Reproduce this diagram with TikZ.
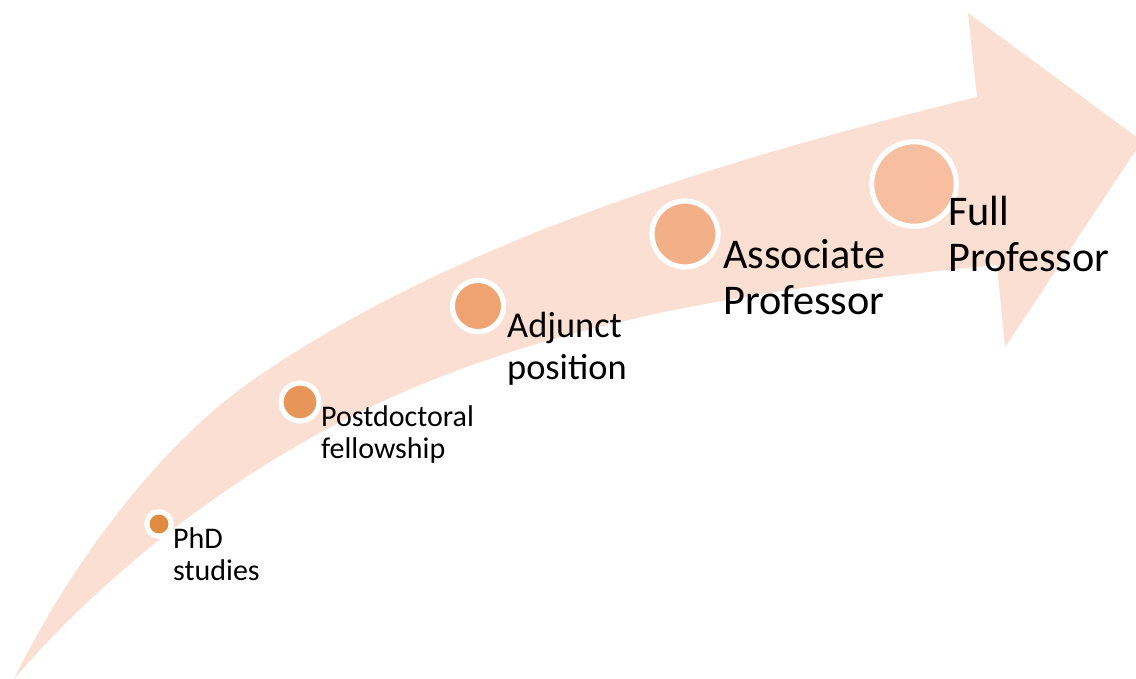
\documentclass[tikz,border=0pt]{standalone}
\usepackage{fontspec}
\setmainfont{Carlito}
\definecolor{arrowpink}{HTML}{FCDFD3}
\definecolor{cA}{HTML}{E08A42}
\definecolor{cB}{HTML}{E8955A}
\definecolor{cC}{HTML}{EFA371}
\definecolor{cD}{HTML}{F3AF87}
\definecolor{cE}{HTML}{F7BF9F}
\begin{document}
\begin{tikzpicture}[x=1pt,y=-1pt,
  dot/.style={circle,draw=white,line width=5.2pt,inner sep=0pt,outer sep=0pt},
  lbl/.style={anchor=base west,align=left,inner sep=0pt,text=black},
  small/.style={font=\fontsize{30}{32}\selectfont},
  mid/.style={font=\fontsize{36.4}{42}\selectfont},
  big/.style={font=\fontsize{42.3}{46.5}\selectfont}]
\useasboundingbox (0,0) rectangle (1136,679);
\clip (0,0) rectangle (1136,679);
\fill[arrowpink] (14,679) .. controls (67,571) and (155,448) .. (253,380)
  .. controls (458,237.5) and (734.5,157) .. (977,97)
  -- (968,13) -- (1142,141) -- (1005,347) -- (997,265)
  .. controls (778,286.5) and (545.8,318) .. (350,417)
  .. controls (225.4,480) and (105,573) .. (14,679) -- cycle;
\node[dot,fill=cA,minimum size=24.4pt] (phd) at (159,524) {};
\node[dot,fill=cB,minimum size=38pt] (post) at (300,402) {};
\node[dot,fill=cC,minimum size=51.3pt] (adj) at (478,306) {};
\node[dot,fill=cD,minimum size=66pt] (assoc) at (685,234) {};
\node[dot,fill=cE,minimum size=84.6pt] (full) at (914,184) {};
\node[lbl,small] (phdl) at (173,580) {PhD\\studies};
\node[lbl,small] (postl) at (321,458) {Postdoctoral\\fellowship};
\node[lbl,mid] (adjl) at (507,379) {Adjunct\\position};
\node[lbl,big] (assocl) at (723,315) {Associate\\Professor};
\node[lbl,big] (fulll) at (948,272) {Full\\Professor};
\end{tikzpicture}
\end{document}
